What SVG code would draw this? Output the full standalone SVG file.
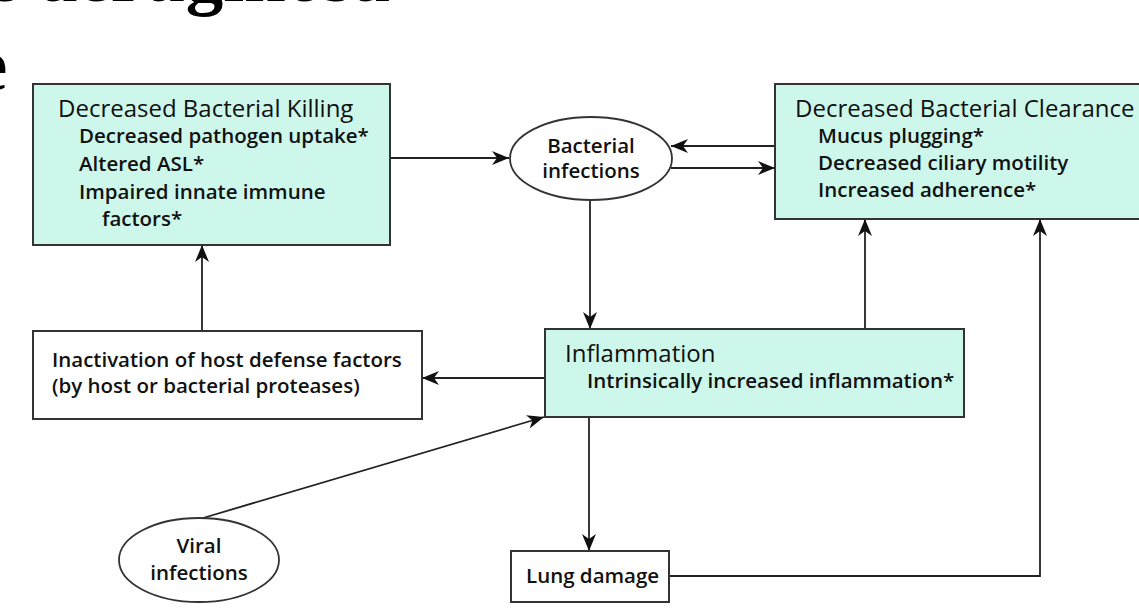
<svg xmlns="http://www.w3.org/2000/svg" width="1139" height="611" viewBox="0 0 1139 611">
<defs>
<style>
.box{fill:#cdf7ea;stroke:#333;stroke-width:2}
.wbox{fill:#fff;stroke:#333;stroke-width:2}
.ell{fill:#fff;stroke:#333;stroke-width:1.8}
.t{font-family:"Open Sans","Noto Sans",sans-serif;font-size:24px;font-weight:500;fill:#111}
.s{font-family:"Open Sans","Noto Sans",sans-serif;font-size:20.5px;font-weight:600;fill:#111}
.c{text-anchor:middle}
.big{font-family:"Liberation Serif",serif;font-size:75px;font-weight:bold;fill:#000}
.ln{fill:none;stroke:#222;stroke-width:1.8}
</style>
<marker id="ah" markerUnits="userSpaceOnUse" markerWidth="20" markerHeight="16" refX="17" refY="7" orient="auto">
<path d="M0,0 L17,7 L0,14 L5,7 Z" fill="#111"/>
</marker>
</defs>
<rect width="1139" height="611" fill="#fff"/>
<text class="big" x="-8" y="1">s aeruginosa</text>
<text class="big" x="-26" y="90">e</text>

<g id="connectors">
<line class="ln" x1="390" y1="158" x2="509" y2="158" marker-end="url(#ah)"/>
<line class="ln" x1="775" y1="146" x2="671" y2="146" marker-end="url(#ah)"/>
<line class="ln" x1="671" y1="168" x2="775" y2="168" marker-end="url(#ah)"/>
<line class="ln" x1="590" y1="200" x2="590" y2="329" marker-end="url(#ah)"/>
<line class="ln" x1="545" y1="378" x2="422" y2="378" marker-end="url(#ah)"/>
<line class="ln" x1="202" y1="331" x2="202" y2="245" marker-end="url(#ah)"/>
<line class="ln" x1="865" y1="329" x2="865" y2="219" marker-end="url(#ah)"/>
<line class="ln" x1="203" y1="518" x2="544" y2="417" marker-end="url(#ah)"/>
<line class="ln" x1="589" y1="417" x2="589" y2="551" marker-end="url(#ah)"/>
<polyline class="ln" points="669,576 1040,576 1040,219" marker-end="url(#ah)"/>
</g>

<g id="decreased-killing">
<rect class="box" x="33" y="84" width="357" height="161"/>
<text class="t" x="58" y="117">Decreased Bacterial Killing</text>
<text class="s" x="79" y="143">Decreased pathogen uptake*</text>
<text class="s" x="79" y="171">Altered ASL*</text>
<text class="s" x="79" y="199">Impaired innate immune</text>
<text class="s" x="102" y="226">factors*</text>
</g>

<g id="bacterial-infections">
<ellipse class="ell" cx="591" cy="158.5" rx="81" ry="41.5"/>
<text class="s c" x="591" y="153">Bacterial</text>
<text class="s c" x="591" y="178">infections</text>
</g>

<g id="decreased-clearance">
<rect class="box" x="775" y="84" width="370" height="135"/>
<text class="t" x="795" y="117">Decreased Bacterial Clearance</text>
<text class="s" x="818" y="143">Mucus plugging*</text>
<text class="s" x="818" y="170">Decreased ciliary motility</text>
<text class="s" x="818" y="197">Increased adherence*</text>
</g>

<g id="inactivation">
<rect class="wbox" x="33" y="331" width="389" height="88"/>
<text class="s" x="52" y="367">Inactivation of host defense factors</text>
<text class="s" x="52" y="393">(by host or bacterial proteases)</text>
</g>

<g id="inflammation">
<rect class="box" x="545" y="329" width="419" height="88"/>
<text class="t" x="565" y="362">Inflammation</text>
<text class="s" x="587" y="388">Intrinsically increased inflammation*</text>
</g>

<g id="viral-infections">
<ellipse class="ell" cx="199" cy="560" rx="80" ry="42"/>
<text class="s c" x="199" y="553">Viral</text>
<text class="s c" x="199" y="580">infections</text>
</g>

<g id="lung-damage">
<rect class="wbox" x="511" y="551" width="158" height="51"/>
<text class="s" x="526" y="583">Lung damage</text>
</g>
</svg>
